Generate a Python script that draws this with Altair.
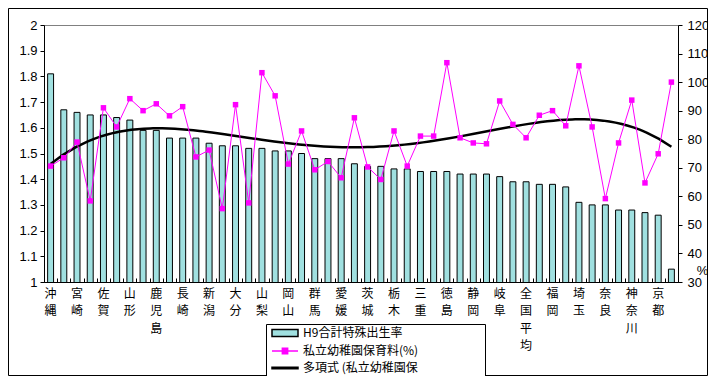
import json
import altair as alt
import pandas as pd

# ---- data ----
prefs = ["沖縄", "福島", "宮崎", "島根", "佐賀", "鳥取", "山形", "熊本",
         "鹿児島", "福井", "長崎", "長野", "新潟", "岩手", "大分", "香川",
         "山梨", "滋賀", "岡山", "山口", "群馬", "青森", "愛媛", "秋田",
         "茨城", "富山", "栃木", "石川", "三重", "和歌山", "徳島", "広島",
         "静岡", "高知", "岐阜", "愛知", "全国平均", "宮城", "福岡", "兵庫",
         "埼玉", "千葉", "奈良", "大阪", "神奈川", "北海道", "京都", "東京"]
tfr = [1.81, 1.67, 1.66, 1.65, 1.65, 1.64, 1.63, 1.59, 1.59, 1.56, 1.56, 1.56,
       1.54, 1.53, 1.53, 1.52, 1.52, 1.51, 1.51, 1.50, 1.48, 1.48, 1.48, 1.46,
       1.45, 1.45, 1.44, 1.44, 1.43, 1.43, 1.43, 1.42, 1.42, 1.42, 1.41, 1.39,
       1.39, 1.38, 1.38, 1.37, 1.31, 1.30, 1.30, 1.28, 1.28, 1.27, 1.26, 1.05]
fee = [70.6, 73.5, 79.0, 58.4, 91.0, 84.3, 94.2, 90.0, 92.4, 88.2, 91.4, 73.8,
       76.2, 55.7, 92.1, 57.7, 103.3, 95.2, 71.3, 82.9, 69.3, 72.2, 66.5, 87.5,
       70.3, 65.9, 82.9, 70.6, 81.1, 81.1, 106.8, 80.5, 78.7, 78.4, 93.4, 85.2,
       80.5, 88.4, 90.0, 84.7, 105.7, 84.3, 59.2, 78.7, 93.7, 64.7, 74.9, 100.0]
series_names = ["H9合計特殊出生率", "私立幼稚園保育料(%)", "多項式 (私立幼稚園保"]

n = len(prefs)
df = pd.DataFrame({"pref": prefs, "idx": list(range(n)), "tfr": tfr, "fee": fee})
shown = prefs[::2]

W, H = 634, 257
FONT = "Liberation Sans"
JFONT = "Noto Sans CJK JP"
TEAL = "#A0E0E0"
PINK = "#FF00FF"

xband = alt.Scale(domain=prefs, paddingInner=0.55, paddingOuter=0.275)
yleft = alt.Scale(domain=[1, 2], nice=False, zero=False)
yright = alt.Scale(domain=[30, 120], nice=False, zero=False)

label_expr = ("indexof(" + json.dumps(shown, ensure_ascii=False) +
              ", datum.value) >= 0 ? split(datum.value, '') : ''")

frame = alt.Chart(alt.Data(values=[{}])).mark_rect(
    fill="transparent", stroke="black", strokeWidth=1
).encode(x=alt.value(-35.5), x2=alt.value(W + 29.5),
         y=alt.value(-16.5), y2=alt.value(H + 93.5))

bars = alt.Chart(df).mark_bar(fill=TEAL, stroke="black", strokeWidth=1, clip=True).encode(
    x=alt.X("pref:N", scale=xband, sort=None,
            axis=alt.Axis(title=None, labelExpr=label_expr, labelAngle=0, ticks=False,
                          domain=True, domainColor="black", labelFont=JFONT,
                          labelFontSize=12, labelLineHeight=17.5, labelPadding=6,
                          labelOverlap=False, labelColor="black")),
    y=alt.Y("tfr:Q", scale=yleft,
            axis=alt.Axis(title=None, orient="left", format=".1~f", tickCount=10,
                          tickSize=4, labelPadding=3, domainColor="black",
                          tickColor="black", grid=False, labelFont=FONT,
                          labelFontSize=13, labelColor="black")),
)

bounds = [i - 0.5 for i in range(n + 1)]

trend = alt.Chart(df).transform_regression(
    "idx", "fee", method="poly", order=4
).mark_line(color="black", strokeWidth=2.5).encode(
    x=alt.X("idx:Q", scale=alt.Scale(domain=[-0.5, n - 0.5], nice=False, zero=False),
            axis=alt.Axis(title=None, orient="bottom", offset=-4, values=bounds,
                          tickSize=4, labels=False, domain=False, tickColor="black",
                          grid=False)),
    y=alt.Y("fee:Q", scale=yright, axis=None),
)

pink_line = alt.Chart(df).mark_line(color=PINK, strokeWidth=1).encode(
    x=alt.X("pref:N", scale=xband, sort=None, axis=None),
    y=alt.Y("fee:Q", scale=yright,
            axis=alt.Axis(title="%", orient="right", tickCount=9, tickSize=4,
                          labelPadding=5, domainColor="black", tickColor="black",
                          grid=False, labelFont=FONT, labelFontSize=13,
                          labelColor="black", titleAngle=0, titleX=24, titleY=245,
                          titleFont=FONT, titleFontSize=13, titleFontWeight="normal",
                          titleAlign="center", titleBaseline="middle")),
    order=alt.Order("idx:Q"),
)

pink_pts = alt.Chart(df).mark_square(color=PINK, size=30, opacity=1).encode(
    x=alt.X("pref:N", scale=xband, sort=None, axis=None),
    y=alt.Y("fee:Q", scale=yright, axis=None),
)

paths = ["M-2.6,-0.7H2.6V0.7H-2.6Z",
         "M-2.6,0H2.6M-0.53,-0.53H0.53V0.53H-0.53Z",
         "M-2.6,-0.15H2.6V0.15H-2.6Z"]
pad = "\u2800" * 7
leg = alt.Legend(title=None, orient="none", legendX=222, legendY=299,
                 direction="vertical", strokeColor="black", fillColor="white",
                 padding=3, symbolSize=100, symbolOffset=10, labelOffset=12,
                 rowPadding=5, labelFont=JFONT, labelFontSize=12, labelColor="black",
                 labelLimit=400,
                 labelExpr="datum.label + '" + pad + "'")
legend_layer = alt.Chart(pd.DataFrame({"s": series_names})).transform_filter(
    "false"
).mark_point(filled=True, opacity=1).encode(
    fill=alt.Fill("s:N", scale=alt.Scale(domain=series_names, range=[TEAL, PINK, "black"]), legend=leg),
    stroke=alt.Stroke("s:N", scale=alt.Scale(domain=series_names, range=["black", PINK, "black"]), legend=leg),
    shape=alt.Shape("s:N", scale=alt.Scale(domain=series_names, range=paths), legend=leg),
)

chart = alt.layer(
    frame, bars, trend, pink_line, pink_pts, legend_layer
).resolve_scale(
    x="independent", y="independent"
).properties(
    width=W, height=H,
    padding={"left": 36, "top": 17, "right": 30, "bottom": 94},
    autosize=alt.AutoSizeParams(type="none"),
).configure_view(stroke="#808080", strokeWidth=1)

chart.save("out.html", embed_options={"renderer": "svg", "actions": False})
